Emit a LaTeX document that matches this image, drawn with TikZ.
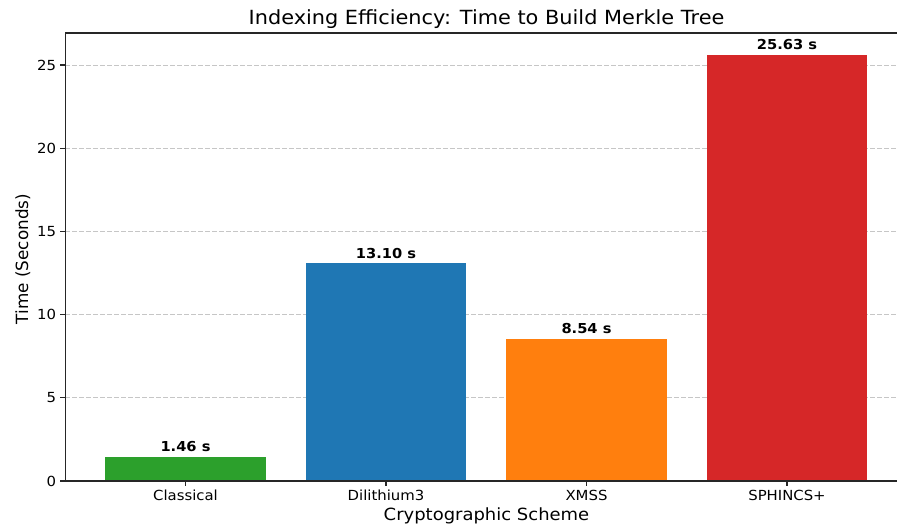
\documentclass[tikz,border=0pt]{standalone}
\usepackage{fontspec}
\setmainfont{DejaVu Sans}
\usetikzlibrary{positioning}

\definecolor{tabgreen}{HTML}{2CA02C}
\definecolor{tabblue}{HTML}{1F77B4}
\definecolor{taborange}{HTML}{FF7F0E}
\definecolor{tabred}{HTML}{D62728}

\tikzset{
	gridline/.style={gray!45,line width=0.7pt,dash pattern=on 4.5pt off 2.5pt},
	spine/.style={black!85,line width=1.1pt},
	tickmark/.style={black!85,line width=1.1pt},
	wide/.style={xscale=1.07},
	ticklabel/.style={wide,font=\fontsize{13.9}{16}\selectfont,inner sep=0pt},
	barlabel/.style={wide,font=\fontsize{13.7}{16}\selectfont\bfseries,inner sep=0pt,anchor=base},
	axislabel/.style={font=\fontsize{16.8}{20}\selectfont,inner sep=0pt},
	titlelabel/.style={wide,font=\fontsize{19.5}{23}\selectfont,inner sep=0pt}
}

\begin{document}
\begin{tikzpicture}[x=1pt,y=1pt]
			\clip (0,0) rectangle (897,526);
			\fill[white] (0,0) rectangle (897,526);
			
			\begin{scope}[shift={(185.5pt,45pt)},x=200.5pt,y=16.64pt]
				% grid
				\foreach \v in {5,10,...,25} {
					\draw[gridline] (-0.6,\v) -- (3.6,\v);
				}
				
				% bars
				\foreach \i/\val/\col/\lab in {0/1.46/tabgreen/Classical,1/13.10/tabblue/Dilithium3,2/8.54/taborange/XMSS,3/25.63/tabred/SPHINCS+} {
					\fill[\col] (\i-0.4,0) rectangle (\i+0.4,\val);
					\node[barlabel] (V\i) at (\i,\val+0.3) {\val\ s};
					\draw[tickmark] (\i,0) -- (\i,-0.3);
					\node[ticklabel,anchor=north] (X\i) at (\i,-0.55) {\lab};
				}
				
				% y ticks
				\foreach \v in {0,5,...,25} {
					\draw[tickmark] (-0.6,\v) -- ++(-5pt,0);
					\node[ticklabel,anchor=east] (Y\v) at ([xshift=-9pt]-0.6,\v) {\v};
				}
				
				% frame
				\draw[spine] (3.65,26.92) -- (-0.6,26.92) -- (-0.6,0) -- (3.65,0);
			\end{scope}
			
			\node[titlelabel,anchor=base] (title) at (486.5,501) {Indexing Efficiency: Time to Build Merkle Tree};
			\node[axislabel,wide,anchor=base] (xlab) at (486.5,5) {Cryptographic Scheme};
			\node[axislabel,anchor=base,rotate=90] (ylab) at (28,267) {Time (Seconds)};
		\end{tikzpicture}
\end{document}
